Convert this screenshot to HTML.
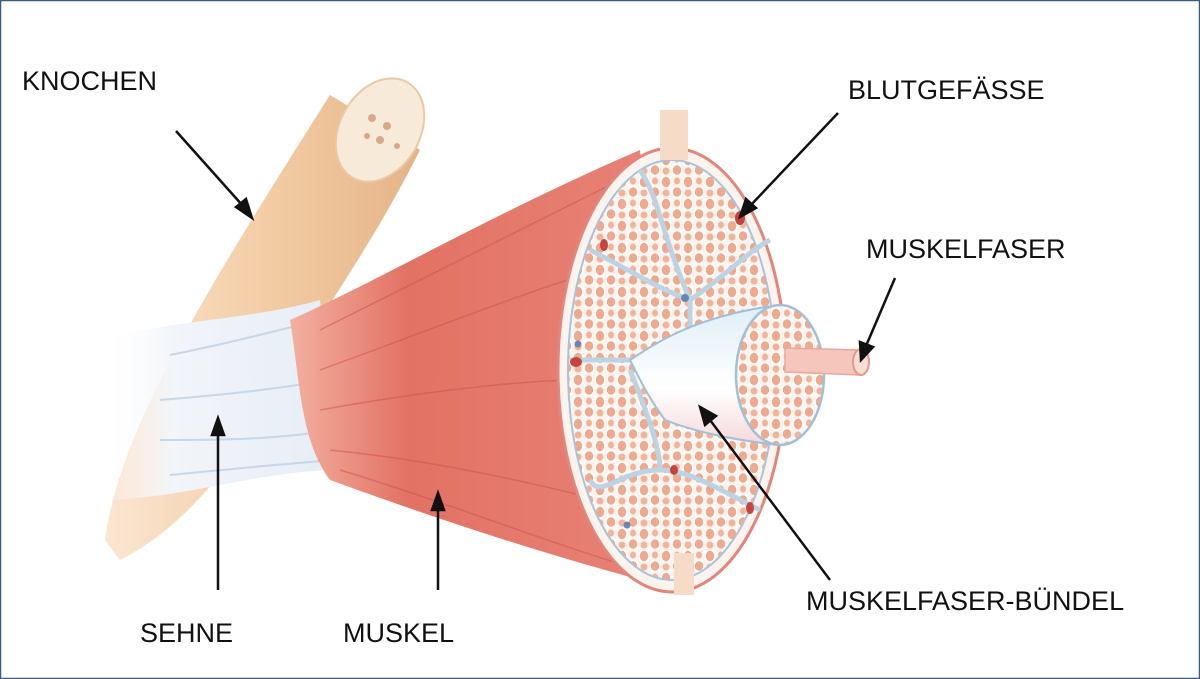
<!DOCTYPE html>
<html><head><meta charset="utf-8"><style>
html,body{margin:0;padding:0;background:#fff}
svg{display:block}
text{font-family:"Liberation Sans",sans-serif;font-size:27px;fill:#111}
</style></head><body>
<svg width="1200" height="679" viewBox="0 0 1200 679" xmlns="http://www.w3.org/2000/svg">
<defs>
<pattern id="dots" width="22" height="22" patternUnits="userSpaceOnUse">
<rect width="22" height="22" fill="#fdf3ee"/>
<ellipse cx="6" cy="6" rx="5" ry="6" fill="#efa98f" stroke="#fff" stroke-width="1.5"/>
<ellipse cx="17" cy="16" rx="5" ry="5.5" fill="#efa98f" stroke="#fff" stroke-width="1.5"/>
<ellipse cx="17" cy="5" rx="3" ry="3.5" fill="#f2b39b"/>
<ellipse cx="6" cy="17" rx="3.5" ry="3.5" fill="#f2b39b"/>
</pattern>
<linearGradient id="bone" x1="0" y1="0" x2="1" y2="0">
<stop offset="0" stop-color="#fbe6d2"/><stop offset="0.5" stop-color="#f3cda6"/><stop offset="1" stop-color="#e6b387"/>
</linearGradient>
<linearGradient id="tend" x1="0" y1="0" x2="1" y2="0">
<stop offset="0" stop-color="#ffffff" stop-opacity="0"/><stop offset="0.3" stop-color="#f2f5fa"/><stop offset="1" stop-color="#e6edf5"/>
</linearGradient>
<linearGradient id="musc" x1="0" y1="0" x2="1" y2="0">
<stop offset="0" stop-color="#f3b0a0"/><stop offset="0.3" stop-color="#e27264"/><stop offset="1" stop-color="#e88478"/>
</linearGradient>
<linearGradient id="cyl" x1="0" y1="0" x2="0" y2="1">
<stop offset="0" stop-color="#dfeef6"/><stop offset="0.6" stop-color="#ffffff"/><stop offset="1" stop-color="#f5d8da"/>
</linearGradient>
</defs>
<rect x="0.5" y="0.5" width="1199" height="678" fill="#fff" stroke="#3d5a80" stroke-width="1.5"/>
<!-- bone -->
<path d="M105,540 C120,430 200,300 330,95 L420,150 C370,250 310,330 270,400 C230,470 180,530 120,560 Z" fill="url(#bone)"/>
<ellipse cx="380" cy="130" rx="40" ry="55" transform="rotate(30 380 130)" fill="#f8ead8" stroke="#e9c9a6" stroke-width="2"/>
<g fill="#d9a88a"><circle cx="372" cy="118" r="4"/><circle cx="387" cy="126" r="4"/><circle cx="380" cy="140" r="4"/><circle cx="397" cy="146" r="3"/><circle cx="367" cy="136" r="3"/></g>
<!-- tendon -->
<path d="M100,340 C170,320 250,320 320,300 L340,470 C260,470 180,500 100,500 Z" fill="url(#tend)"/>
<g stroke="#c8d6e6" stroke-width="2" fill="none">
<path d="M170,355 C220,345 260,335 320,320"/><path d="M160,400 C220,395 270,390 330,380"/><path d="M160,440 C220,440 270,440 335,430"/><path d="M170,475 C220,470 270,465 335,460"/>
</g>
<!-- muscle cone -->
<path d="M290,320 C380,280 500,210 640,150 L680,590 C560,560 440,520 330,480 C300,440 300,380 290,320 Z" fill="url(#musc)"/>
<g stroke="#c9534a" stroke-width="1.5" opacity="0.5" fill="none">
<path d="M320,330 C420,280 520,230 620,180"/><path d="M320,370 C430,330 530,290 600,270"/><path d="M320,410 C430,390 530,380 580,380"/><path d="M330,450 C430,460 520,480 600,500"/><path d="M340,470 C440,500 540,540 640,570"/>
</g>
<!-- cross section -->
<ellipse cx="672" cy="370" rx="114" ry="222" fill="#fbf3ee" stroke="#e3857a" stroke-width="3"/>
<ellipse cx="672" cy="370" rx="104" ry="210" fill="url(#dots)" stroke="#a9c4d8" stroke-width="2"/>
<g stroke="#bcd3e4" stroke-width="5" fill="none">
<path d="M590,250 C630,270 660,290 690,300 C720,280 750,250 770,240"/>
<path d="M570,360 L640,360"/><path d="M690,300 L690,340"/>
<path d="M640,170 C660,200 660,230 690,300"/>
<path d="M660,470 C620,470 600,500 590,480"/><path d="M660,470 C690,470 720,490 760,510"/><path d="M630,370 C650,420 660,450 660,470"/>
</g>
<g fill="#c7443e"><ellipse cx="740" cy="218" rx="5" ry="7"/><ellipse cx="604" cy="245" rx="4" ry="6"/><ellipse cx="576" cy="362" rx="6" ry="5"/><ellipse cx="750" cy="508" rx="4" ry="6"/><ellipse cx="674" cy="470" rx="4" ry="5"/></g>
<g fill="#6b86b4"><circle cx="685" cy="298" r="4"/><circle cx="578" cy="344" r="3.5"/><circle cx="627" cy="525" r="3.5"/></g>
<!-- inner cylinder -->
<path d="M630,360 C660,340 700,315 780,305 L780,445 C730,440 690,430 665,420 C650,400 640,380 630,360 Z" fill="url(#cyl)" stroke="#9fc0d6" stroke-width="2"/>
<ellipse cx="780" cy="375" rx="44" ry="70" fill="url(#dots)" stroke="#9fc0d6" stroke-width="2.5"/>
<path d="M785,348 L860,350 L860,375 L785,372 Z" fill="#f5c6bb" stroke="#e8a89b" stroke-width="1.5"/>
<ellipse cx="861" cy="362" rx="8" ry="13" fill="#f9ddd3" stroke="#e29a8d" stroke-width="2"/>
<!-- beige marks -->
<rect x="660" y="110" width="28" height="50" fill="#f6dcc8"/>
<rect x="674" y="553" width="20" height="42" fill="#f6dcc8"/>
<!-- arrows -->
<g stroke="#111" stroke-width="2.5" fill="#111">
<line x1="176" y1="131" x2="243" y2="206"/><polygon points="252,218 236,207 246,199"/>
<line x1="838" y1="113" x2="750" y2="206"/><polygon points="740,217 746,199 756,208"/>
<line x1="895" y1="278" x2="866" y2="346"/><polygon points="861,360 860,342 873,347"/>
<line x1="830" y1="580" x2="710" y2="420"/><polygon points="700,407 716,416 705,425"/>
<line x1="218" y1="590" x2="218" y2="433"/><polygon points="218,418 212,435 224,435"/>
<line x1="438" y1="590" x2="438" y2="508"/><polygon points="438,493 432,510 444,510"/>
</g>
<text x="22" y="90">KNOCHEN</text>
<text x="848" y="99">BLUTGEFÄSSE</text>
<text x="866" y="258">MUSKELFASER</text>
<text x="806" y="610">MUSKELFASER-BÜNDEL</text>
<text x="140" y="642">SEHNE</text>
<text x="343" y="642">MUSKEL</text>
</svg>
</body></html>
